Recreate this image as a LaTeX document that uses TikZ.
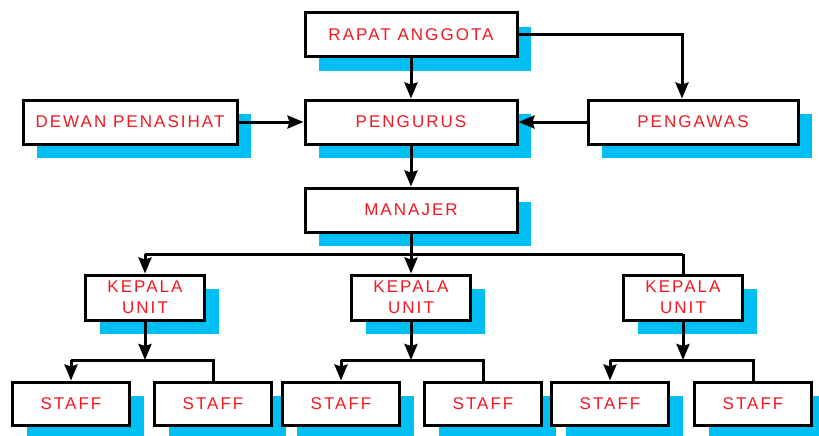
\documentclass[tikz,border=0pt]{standalone}
\usepackage{fontspec}
\newfontfamily\lblfont[LetterSpace=12]{Liberation Sans}
\usetikzlibrary{arrows.meta,shadows,calc}
\definecolor{txtred}{RGB}{240,25,35}
\definecolor{shcyan}{RGB}{0,191,243}
\begin{document}
\begin{tikzpicture}[x=1pt,y=-1pt,
  box/.style={draw=black,line width=3pt,fill=white,text=txtred,
    font=\lblfont\fontsize{17}{21}\selectfont,align=center,inner sep=0pt,
    minimum height=44pt,
    drop shadow={shadow xshift=14pt,shadow yshift=-14pt,fill=shcyan,opacity=1}},
  wide/.style={box,minimum width=212pt},
  unitbox/.style={box,minimum width=119pt,minimum height=45pt},
  staffbox/.style={box,minimum width=117pt,minimum height=43pt},
  conn/.style={line width=3pt,draw=black},
  arr/.style={conn,-{Stealth[length=16pt,width=13pt,inset=2pt]}}]
\useasboundingbox (0,0) rectangle (819,436);
\clip (0,0) rectangle (819,436);
% top nodes
\node[wide] (RA) at (411,35) {RAPAT ANGGOTA};
\node[wide,minimum width=214pt] (DP) at (130,122) {DEWAN PENASIHAT};
\node[wide] (PG) at (411,122) {PENGURUS};
\node[wide,minimum width=210pt] (PW) at (693,122) {PENGAWAS};
\node[wide] (MJ) at (411,210) {MANAJER};
% unit heads
\node[unitbox] (KU1) at (145,297.5) {KEPALA\\UNIT};
\node[unitbox] (KU2) at (411,297.5) {KEPALA\\UNIT};
\node[unitbox] (KU3) at (683,297.5) {KEPALA\\UNIT};
% staff
\node[staffbox] (S1) at (71,403.5) {STAFF};
\node[staffbox] (S2) at (213,403.5) {STAFF};
\node[staffbox] (S3) at (341,403.5) {STAFF};
\node[staffbox] (S4) at (483,403.5) {STAFF};
\node[staffbox] (S5) at (610,403.5) {STAFF};
\node[staffbox] (S6) at (753,403.5) {STAFF};
% bus coordinates
\coordinate (bus) at (411,254);
\coordinate (sb1) at (145,360);
\coordinate (sb2) at (411,360);
\coordinate (sb3) at (683,360);
% connectors
\draw[arr] (RA.south) -- (PG.north);
\draw[arr] (RA.east) -| ([xshift=-11pt]PW.north);
\draw[arr] (DP.east) -- (PG.west);
\draw[arr] (PW.west) -- (PG.east);
\draw[arr] (PG.south) -- (MJ.north);
\draw[conn] (MJ.south) -- (bus);
\draw[conn] (KU1.north |- bus) -- (KU3.north |- bus);
\draw[arr] (KU1.north |- bus) -- (KU1.north);
\draw[arr] (bus) -- (KU2.north);
\draw[conn] (KU3.north |- bus) -- (KU3.north);
% sub-buses
\draw[arr] (KU1.south) -- (sb1);
\draw[arr] (KU2.south) -- (sb2);
\draw[arr] (KU3.south) -- (sb3);
\draw[conn] (S1.north |- sb1) -- (S2.north |- sb1) -- (S2.north);
\draw[arr] (S1.north |- sb1) -- (S1.north);
\draw[conn] (S3.north |- sb2) -- (S4.north |- sb2) -- (S4.north);
\draw[arr] (S3.north |- sb2) -- (S3.north);
\draw[conn] (S5.north |- sb3) -- (S6.north |- sb3) -- (S6.north);
\draw[arr] (S5.north |- sb3) -- (S5.north);
\end{tikzpicture}
\end{document}
